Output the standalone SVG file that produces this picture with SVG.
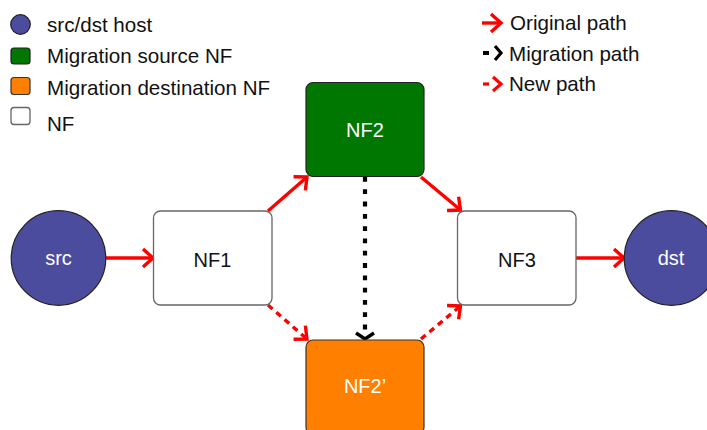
<svg xmlns="http://www.w3.org/2000/svg" width="707" height="430" viewBox="0 0 707 430">
<defs>
<style>
text{font-family:"Liberation Sans",Arial,sans-serif;font-size:20px;}
.lbl{fill:#111;font-size:20.6px;}
.wl{fill:#fff;text-anchor:middle;}
.bl{fill:#111;text-anchor:middle;}
.host{fill:#4c4c9f;stroke:#222;stroke-width:1.2;}
.nf{fill:#fff;stroke:#666;stroke-width:1.3;}
.src{fill:#007700;stroke:#222;stroke-width:1.2;}
.dstn{fill:#ff8000;stroke:#333;stroke-width:1.2;}
.orig{stroke:#ff0000;stroke-width:3.4;fill:none;marker-end:url(#rh);}
.newp{stroke:#ff0000;stroke-width:3.4;fill:none;stroke-dasharray:6 5;marker-end:url(#rh);}
.mig{stroke:#000;stroke-width:4.2;fill:none;stroke-dasharray:4.8 7.5;marker-end:url(#bh);}
</style>
<marker id="rh" markerUnits="userSpaceOnUse" viewBox="-14 -12 18 24" markerWidth="18" markerHeight="24" refX="0" refY="0" orient="auto" overflow="visible">
<path d="M-10,-9 L0,0 L-10,9" fill="none" stroke="#ff0000" stroke-width="3.4" stroke-linejoin="miter"/>
</marker>
<marker id="bh" markerUnits="userSpaceOnUse" viewBox="-14 -12 18 24" markerWidth="18" markerHeight="24" refX="0" refY="0" orient="auto" overflow="visible">
<path d="M-6,-9 L0,0 L-6,9" fill="none" stroke="#000" stroke-width="3.4" stroke-linejoin="miter"/>
</marker>
</defs>
<rect width="707" height="430" fill="#fff"/>
<g id="legend">
<circle class="host" cx="20.5" cy="24.5" r="9.8"/>
<text class="lbl" x="47" y="32">src/dst host</text>
<rect class="src" x="11" y="48" width="19" height="16" rx="3"/>
<text class="lbl" x="47" y="63">Migration source NF</text>
<rect class="dstn" x="11" y="77.5" width="19" height="17" rx="3"/>
<text class="lbl" x="47" y="94.5">Migration destination NF</text>
<rect class="nf" x="11" y="107.5" width="19" height="17" rx="3"/>
<text class="lbl" x="47" y="131">NF</text>
<line class="orig" x1="482" y1="23" x2="501" y2="23"/>
<text class="lbl" x="510" y="30">Original path</text>
<line x1="483" y1="53" x2="489" y2="53" stroke="#000" stroke-width="4"/>
<path d="M495,46 L501,53 L495,60" fill="none" stroke="#000" stroke-width="3.2"/>
<text class="lbl" x="509" y="61">Migration path</text>
<line x1="483" y1="84" x2="489" y2="84" stroke="#ff0000" stroke-width="3.2"/>
<path d="M493,77 L501,84 L493,91" fill="none" stroke="#ff0000" stroke-width="3.2"/>
<text class="lbl" x="509" y="91">New path</text>
</g>
<g id="connectors">
<line class="orig" x1="106" y1="258" x2="153" y2="258"/>
<line class="orig" x1="268" y1="211" x2="307" y2="177"/>
<line class="orig" x1="421" y1="177" x2="460.5" y2="210"/>
<line class="orig" x1="576" y1="258" x2="624" y2="258"/>
<line class="newp" x1="268" y1="305" x2="307" y2="339"/>
<line class="newp" x1="421" y1="339" x2="460.5" y2="306"/>
<line class="mig" x1="365" y1="177" x2="365" y2="339"/>
</g>
<g id="src">
<circle class="host" cx="58.5" cy="258" r="47.3"/>
<text class="wl" x="58.5" y="264.5">src</text>
</g>
<g id="nf1">
<rect class="nf" x="153.5" y="211" width="118.5" height="94" rx="7"/>
<text class="bl" x="212.5" y="266.5">NF1</text>
</g>
<g id="nf2">
<rect class="src" x="306" y="82.5" width="118" height="94" rx="7"/>
<text class="wl" x="365" y="136.5">NF2</text>
</g>
<g id="nf2p">
<rect class="dstn" x="306" y="340" width="118" height="94" rx="7"/>
<text class="wl" x="365" y="393">NF2’</text>
</g>
<g id="nf3">
<rect class="nf" x="457.5" y="211" width="118.5" height="94" rx="7"/>
<text class="bl" x="517" y="266.5">NF3</text>
</g>
<g id="dst">
<circle class="host" cx="671.5" cy="258" r="47.3"/>
<text class="wl" x="671" y="265">dst</text>
</g>
</svg>
